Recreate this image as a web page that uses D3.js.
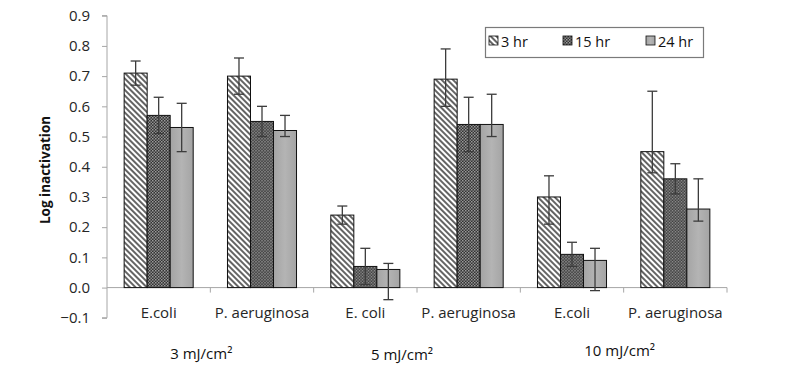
<!DOCTYPE html>
<html>
<head>
<meta charset="utf-8">
<script src="https://cdn.jsdelivr.net/npm/d3@7"></script>
<style>
  body { margin: 0; background: #fff; }
  svg { display: block; font-family: 'Open Sans', sans-serif; }
</style>
</head>
<body>
<svg></svg>
<script>
// ---- data ----
const categories = ['E.coli', 'P. aeruginosa', 'E. coli', 'P. aeruginosa', 'E.coli', 'P. aeruginosa'];
const doses = ['3 mJ/cm\u00B2', '5 mJ/cm\u00B2', '10 mJ/cm\u00B2'];
const seriesNames = ['3 hr', '15 hr', '24 hr'];

const hr3 = [0.71, 0.70, 0.24, 0.69, 0.30, 0.45];
const hr15 = [0.57, 0.55, 0.07, 0.54, 0.11, 0.36];
const hr24 = [0.53, 0.52, 0.06, 0.54, 0.09, 0.26];

const hr3ErrUp = [0.04, 0.06, 0.03, 0.10, 0.07, 0.20];
const hr3ErrDown = [0.04, 0.06, 0.03, 0.09, 0.09, 0.07];
const hr15ErrUp = [0.06, 0.05, 0.06, 0.09, 0.04, 0.05];
const hr15ErrDown = [0.06, 0.05, 0.06, 0.09, 0.04, 0.05];
const hr24ErrUp = [0.08, 0.05, 0.02, 0.10, 0.04, 0.10];
const hr24ErrDown = [0.08, 0.02, 0.10, 0.04, 0.10, 0.04];

const yTicks = [-0.1, 0, 0.1, 0.2, 0.3, 0.4, 0.5, 0.6, 0.7, 0.8, 0.9];

const values = [hr3, hr15, hr24];
const errUp = [hr3ErrUp, hr15ErrUp, hr24ErrUp];
const errDown = [hr3ErrDown, hr15ErrDown, hr24ErrDown];

// ---- setup ----
const SVG = d3.select('svg').attr('width', 785).attr('height', 373);
const TEXT = '#262626';
const AXIS = '#a6a6a6';

const defs = SVG.append('defs');

// diagonal hatch for 3 hr
const hatch = defs.append('pattern')
  .attr('id', 'hatch')
  .attr('patternUnits', 'userSpaceOnUse')
  .attr('width', 4).attr('height', 4)
  .attr('patternTransform', 'rotate(-45)');
hatch.append('rect').attr('width', 4).attr('height', 4).attr('fill', '#fff');
hatch.append('line')
  .attr('x1', 1).attr('y1', 0).attr('x2', 1).attr('y2', 4)
  .attr('stroke', '#111').attr('stroke-width', 1.3);

// dark checker for 15 hr
const checker = defs.append('pattern')
  .attr('id', 'checker')
  .attr('patternUnits', 'userSpaceOnUse')
  .attr('width', 3).attr('height', 3);
checker.append('rect').attr('width', 3).attr('height', 3).attr('fill', '#333');
checker.append('rect').attr('width', 1.5).attr('height', 1.5).attr('fill', '#9a9a9a');
checker.append('rect').attr('x', 1.5).attr('y', 1.5).attr('width', 1.5).attr('height', 1.5).attr('fill', '#888');

// light grey gradient for 24 hr
const grad = defs.append('linearGradient').attr('id', 'grey');
grad.append('stop').attr('offset', '0%').attr('stop-color', '#a4a4a4');
grad.append('stop').attr('offset', '50%').attr('stop-color', '#b4b4b4');
grad.append('stop').attr('offset', '100%').attr('stop-color', '#a4a4a4');

const fills = ['url(#hatch)', 'url(#checker)', 'url(#grey)'];

// ---- scales ----
const y = d3.scaleLinear().domain([-0.1, 0.9]).range([317.8, 15.7]);

const x0 = d3.scaleBand()
  .domain(d3.range(categories.length))
  .range([107, 727])
  .padding(0);

const x1 = d3.scaleBand()
  .domain(d3.range(seriesNames.length))
  .range([0, x0.bandwidth()])
  .paddingInner(0)
  .paddingOuter(0.745);

// ---- y axis ----
const yAxis = d3.axisLeft(y)
  .tickValues(yTicks)
  .tickFormat(d3.format('.1f'))
  .tickSize(5)
  .tickPadding(12);

const yAxisG = SVG.append('g').attr('transform', 'translate(107,0)').call(yAxis);
yAxisG.select('.domain').attr('stroke', AXIS).attr('d', `M-5,${y(-0.1)}H0V${y(0.9)}H-5`);
yAxisG.selectAll('.tick line').attr('stroke', AXIS);
yAxisG.selectAll('.tick text')
  .attr('fill', TEXT)
  .style('font-size', '15px')
  .style('font-family', "'Open Sans', sans-serif");

// ---- x axis (at zero) ----
const xAxisG = SVG.append('g');
xAxisG.append('line')
  .attr('x1', x0.range()[0]).attr('x2', x0.range()[1])
  .attr('y1', y(0)).attr('y2', y(0))
  .attr('stroke', AXIS);

const boundaries = x0.domain().map(d => x0(d)).concat([x0.range()[1]]);
xAxisG.selectAll('.xtick')
  .data(boundaries.slice(1))
  .join('line')
  .attr('class', 'xtick')
  .attr('x1', d => d).attr('x2', d => d)
  .attr('y1', y(0)).attr('y2', y(0) + 5)
  .attr('stroke', AXIS);

xAxisG.selectAll('.xlabel')
  .data(categories)
  .join('text')
  .attr('class', 'xlabel')
  .attr('x', (d, i) => x0(i) + x0.bandwidth() / 2)
  .attr('y', 318)
  .attr('text-anchor', 'middle')
  .attr('fill', TEXT)
  .style('font-size', '15px')
  .text(d => d);

// dose labels under each pair of categories
const doseOffsets = [-9, -15, -4];
const doseY = [359, 360, 356];
SVG.selectAll('.dose')
  .data(doses)
  .join('text')
  .attr('class', 'dose')
  .attr('x', (d, i) => x0(i * 2 + 1) + doseOffsets[i])
  .attr('y', (d, i) => doseY[i])
  .attr('text-anchor', 'middle')
  .attr('fill', '#111')
  .style('font-size', '15px')
  .text(d => d);

// ---- bars ----
const groups = SVG.selectAll('.group')
  .data(categories)
  .join('g')
  .attr('class', 'group')
  .attr('transform', (d, i) => `translate(${x0(i)},0)`);

groups.each(function (cat, ci) {
  const g = d3.select(this);
  seriesNames.forEach((s, si) => {
    const v = values[si][ci];
    g.append('rect')
      .attr('x', x1(si))
      .attr('y', y(Math.max(v, 0)))
      .attr('width', x1.bandwidth())
      .attr('height', Math.abs(y(v) - y(0)))
      .attr('fill', fills[si])
      .attr('stroke', '#111')
      .attr('stroke-width', 1);
  });
});

// ---- error bars ----
groups.each(function (cat, ci) {
  const g = d3.select(this);
  seriesNames.forEach((s, si) => {
    const v = values[si][ci];
    const cx = x1(si) + x1.bandwidth() / 2;
    const top = y(v + errUp[si][ci]);
    const bot = y(v - errDown[si][ci]);
    const eb = g.append('g').attr('stroke', '#3c3c3c').attr('stroke-width', 1.3);
    eb.append('line').attr('x1', cx).attr('x2', cx).attr('y1', top).attr('y2', bot);
    eb.append('line').attr('x1', cx - 5).attr('x2', cx + 5).attr('y1', top).attr('y2', top);
    eb.append('line').attr('x1', cx - 5).attr('x2', cx + 5).attr('y1', bot).attr('y2', bot);
  });
});

// ---- y title ----
SVG.append('text')
  .attr('transform', 'translate(50,170) rotate(-90)')
  .attr('text-anchor', 'middle')
  .attr('fill', '#111')
  .style('font-size', '13.5px')
  .style('font-weight', 'bold')
  .text('Log inactivation');

// ---- legend ----
const legend = SVG.append('g');
legend.append('rect')
  .attr('x', 485.5).attr('y', 27.5)
  .attr('width', 218).attr('height', 30)
  .attr('fill', '#fff')
  .attr('stroke', '#7a7a7a')
  .attr('stroke-width', 1.2);

const legendX = [489, 563, 646];
const items = legend.selectAll('.item')
  .data(seriesNames)
  .join('g')
  .attr('class', 'item')
  .attr('transform', (d, i) => `translate(${legendX[i]},36)`);

items.append('rect')
  .attr('width', 9).attr('height', 9)
  .attr('fill', (d, i) => fills[i])
  .attr('stroke', '#111')
  .attr('stroke-width', 0.8);

items.append('text')
  .attr('x', 12)
  .attr('y', 11)
  .attr('fill', '#111')
  .style('font-size', '14.5px')
  .text(d => d);
</script>
</body>
</html>
